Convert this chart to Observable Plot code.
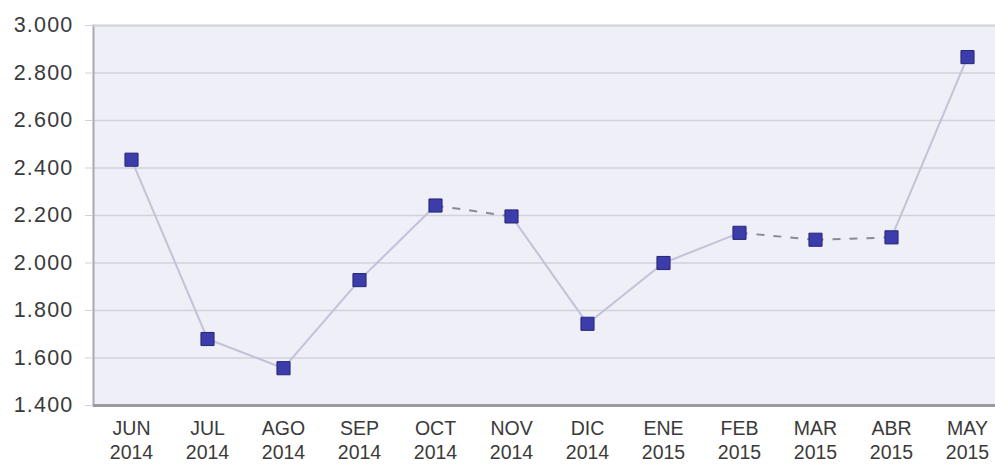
<!DOCTYPE html>
<html>
<head>
<meta charset="utf-8">
<script src="https://cdn.jsdelivr.net/npm/d3@7"></script>
<script src="https://cdn.jsdelivr.net/npm/@observablehq/plot@0.6"></script>
<style>
  html, body { margin: 0; padding: 0; background: #fff; }
  #chart svg { display: block; }
  #chart svg g[aria-label="y-axis tick label"] text { letter-spacing: 1.2px; }
</style>
</head>
<body>
<div id="chart"></div>
<script>
const months = ["JUN","JUL","AGO","SEP","OCT","NOV","DIC","ENE","FEB","MAR","ABR","MAY"];
const years  = ["2014","2014","2014","2014","2014","2014","2014","2015","2015","2015","2015","2015"];
const values = [2435, 1680, 1557, 1928, 2242, 2196, 1744, 2000, 2127, 2098, 2108, 2867];
// segment i joins point i and i+1; true = dashed
const dashedSegments = [false,false,false,false,true,false,false,false,true,true,false];
const yTicks = [1400,1600,1800,2000,2200,2400,2600,2800,3000];

const labels = months.map((m, i) => `${m}\n${years[i]}`);
const points = labels.map((l, i) => ({label: l, value: values[i]}));
const segments = dashedSegments.map((d, i) => ({
  x1: labels[i], y1: values[i], x2: labels[i+1], y2: values[i+1], dashed: d
}));

const esFormat = d3.formatLocale({decimal: ",", thousands: ".", grouping: [3], currency: ["", "€"]}).format(",");

const chart = Plot.plot({
  width: 995,
  height: 465,
  marginTop: 25,
  marginBottom: 60,
  marginLeft: 93,
  marginRight: 0,
  style: {fontFamily: "'Liberation Sans', Arial, sans-serif", color: "#3a3a3a", background: "#fff"},
  x: {type: "point", domain: labels, range: [130, 968], padding: 0, label: null},
  y: {domain: [1400, 3000], label: null},
  marks: [
    Plot.frame({fill: "#efeff7", stroke: null}),
    Plot.gridY(yTicks, {stroke: "#d2d2da", strokeOpacity: 1, strokeWidth: 1.5}),
    Plot.frame({anchor: "left", stroke: "#a8a8b0", strokeWidth: 2}),
    Plot.ruleY([3000], {stroke: "#d4d4dc", strokeWidth: 2}),
    Plot.ruleY([1400], {stroke: "#9a9aa0", strokeWidth: 3}),
    Plot.axisY({ticks: yTicks, tickFormat: esFormat, tickSize: 8, tickPadding: 12, stroke: "#d2d2da", fontSize: 21.5, fill: "#3a3a3a", label: null}),
    Plot.axisX({tickSize: 0, tickPadding: 13, fontSize: 19.5, fill: "#3a3a3a", lineHeight: 1.2, label: null}),
    Plot.link(segments.filter(s => !s.dashed), {x1: "x1", y1: "y1", x2: "x2", y2: "y2", stroke: "#c2c2d8", strokeWidth: 2}),
    Plot.link(segments.filter(s => s.dashed), {x1: "x1", y1: "y1", x2: "x2", y2: "y2", stroke: "#8a8a96", strokeWidth: 2, strokeDasharray: "8,9"}),
    Plot.dot(points, {x: "label", y: "value", symbol: "square", r: 7.4, fill: "#3c3caa", stroke: "#26267a", strokeWidth: 1})
  ]
});
document.getElementById("chart").appendChild(chart);
</script>
</body>
</html>
